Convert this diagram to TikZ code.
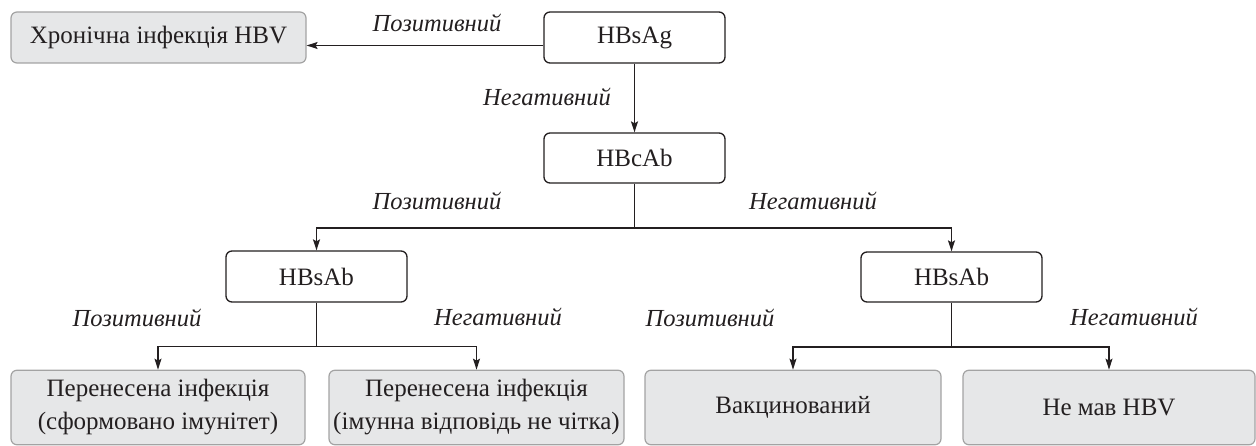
\documentclass[tikz,border=0pt]{standalone}
\usepackage{fontspec}
\setmainfont{Liberation Serif}
\usetikzlibrary{arrows.meta}
\definecolor{boxgray}{HTML}{E6E7E8}
\definecolor{boxedge}{HTML}{A3A3A3}
\definecolor{ink}{HTML}{231F20}
\tikzset{
  testbox/.style={draw=ink, line width=1.3pt, rounded corners=6pt, fill=white,
    minimum width=181pt, minimum height=51pt, inner sep=0pt,
    font=\fontsize{25}{30}\selectfont, text=ink},
  resbox/.style={draw=boxedge, line width=1.2pt, rounded corners=6pt, fill=boxgray,
    minimum height=51pt, inner sep=0pt, align=center,
    font=\fontsize{25}{33}\selectfont, text=ink},
  lbl/.style={font=\fontsize{24.5}{28}\selectfont\itshape, text=ink, inner sep=0pt},
  conn/.style={draw=ink, line width=1.3pt},
  arr/.style={conn, -{Stealth[length=11pt,width=7pt,inset=2pt]}}
}
\begin{document}
\begin{tikzpicture}[x=1pt,y=-1pt]
\useasboundingbox (0,0) rectangle (1256,446);
% top level
\node[resbox, minimum width=295pt] (chronic) at (158.5,37.5) {Хронічна інфекція HBV};
\node[testbox] (hbsag) at (634.5,37.5) {HBsAg};
\node[testbox, minimum height=50pt] (hbcab) at (634.5,158) {HBcAb};
\node[testbox] (hbsab1) at (316.5,276.5) {HBsAb};
\node[testbox, minimum height=50pt] (hbsab2) at (951.5,277) {HBsAb};
% bottom results
\node[resbox, minimum width=294pt, minimum height=74.5pt] (b1) at (158,407.5) {Перенесена інфекція\\(сформовано імунітет)};
\node[resbox, minimum width=295pt, minimum height=74.5pt] (b2) at (476.5,407.5) {Перенесена інфекція\\(імунна відповідь не чітка)};
\node[resbox, minimum width=296pt, minimum height=74.5pt] (b3) at (793,407.5) {Вакцинований};
\node[resbox, minimum width=292pt, minimum height=74.5pt] (b4) at (1109,407.5) {Не мав HBV};
% junctions
\coordinate (j1) at (634.5,228);
\coordinate (j2) at (316.5,346.5);
\coordinate (j3) at (951.5,347);
% connectors
\draw[arr] ([yshift=-8pt]hbsag.west) -- ([yshift=-8pt]chronic.east);
\draw[arr] (hbsag.south) -- (hbcab.north);
\draw[conn] (hbcab.south) -- (j1);
\draw[arr] (j1) -| (hbsab1.north);
\draw[arr] (j1) -| (hbsab2.north);
\draw[conn] (hbsab1.south) -- (j2);
\draw[arr] (j2) -| (b1.north);
\draw[arr] (j2) -| (b2.north);
\draw[conn] (hbsab2.south) -- (j3);
\draw[arr] (j3) -| (b3.north);
\draw[arr] (j3) -| (b4.north);
% labels
\node[lbl] (lp0) at (437,23) {Позитивний};
\node[lbl] (ln0) at (547,97) {Негативний};
\node[lbl] (lp1) at (437,201) {Позитивний};
\node[lbl] (ln1) at (813,201) {Негативний};
\node[lbl] (lp2) at (137,318) {Позитивний};
\node[lbl] (ln2) at (498,317) {Негативний};
\node[lbl] (lp3) at (710,318) {Позитивний};
\node[lbl] (ln3) at (1134,317) {Негативний};
\end{tikzpicture}
\end{document}
